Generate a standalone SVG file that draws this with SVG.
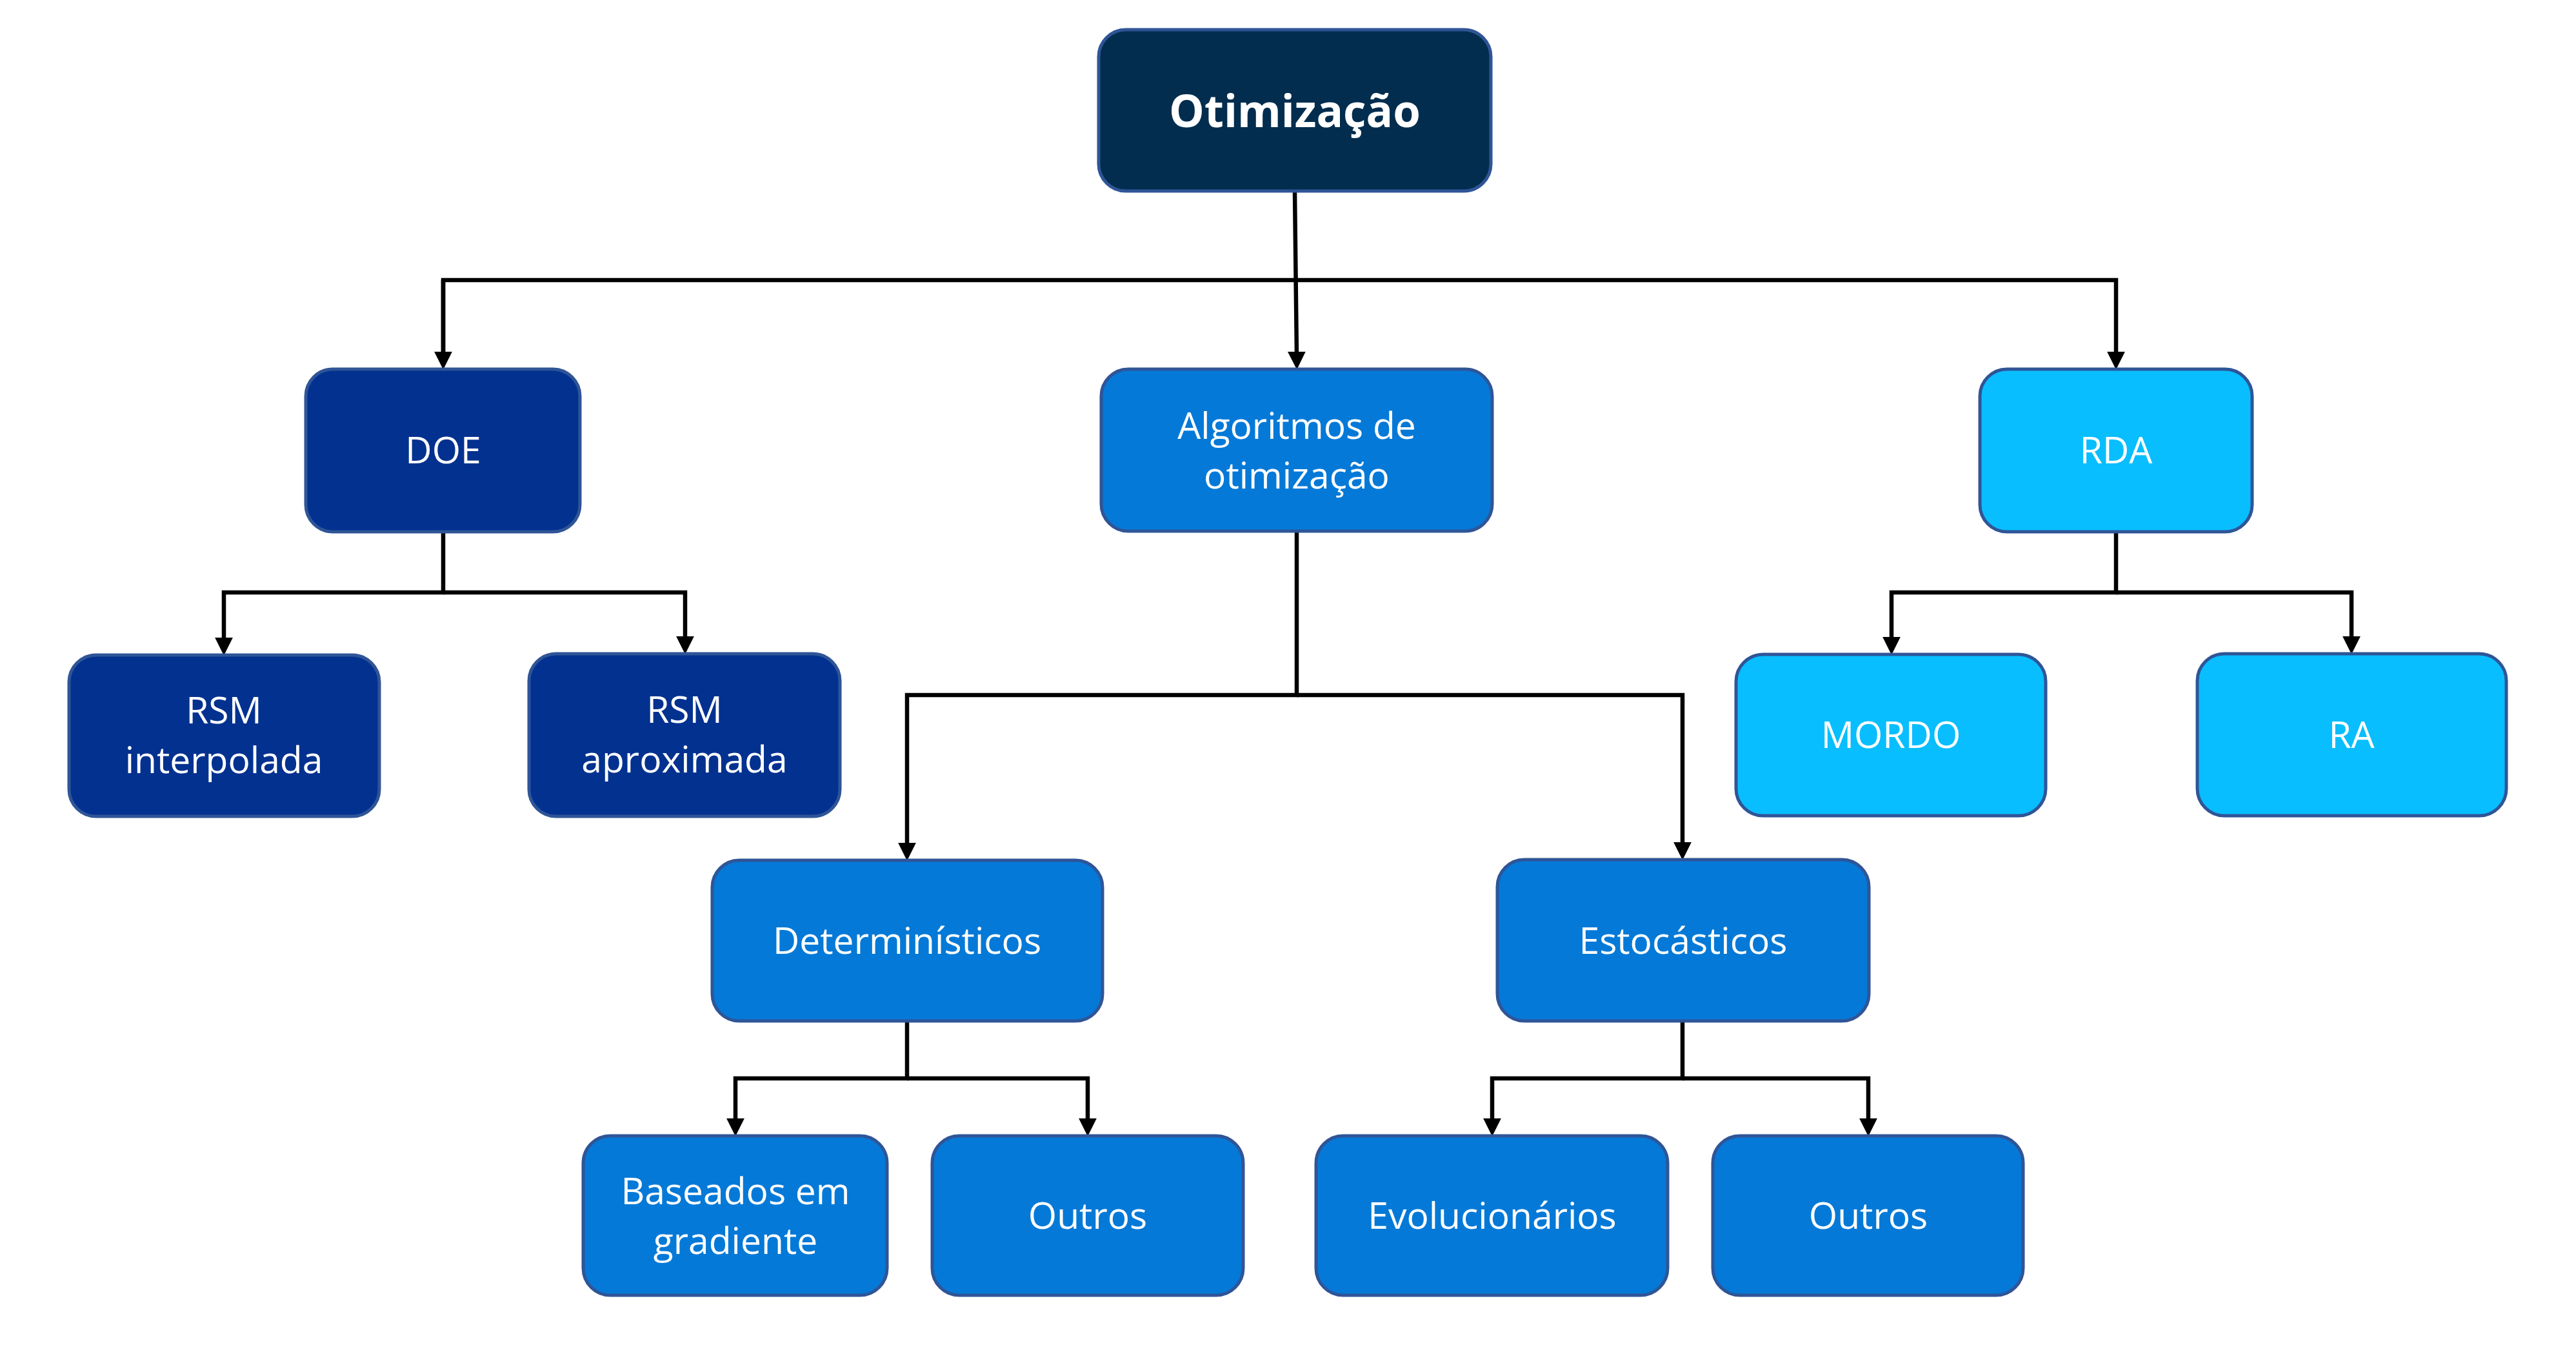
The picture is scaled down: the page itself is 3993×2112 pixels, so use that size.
<svg xmlns="http://www.w3.org/2000/svg" width="3993" height="2112" viewBox="0 0 3993 2112">
  <defs>
    <marker id="arrow" markerUnits="userSpaceOnUse" markerWidth="28" markerHeight="28" viewBox="0 0 27 27" refX="7" refY="13.5" orient="auto">
      <path d="M0,0 L27,13.5 L0,27 Z" fill="#000"/>
    </marker>
    <style>
      .box { stroke: #2F5597; stroke-width: 5; }
      .c0 { fill: #022D4E; }
      .c1 { fill: #03318F; }
      .c2 { fill: #0579D7; }
      .c3 { fill: #08BEFE; }
      .t { fill: #FFFFFF; font-family: "Open Sans", "Noto Sans", sans-serif; font-size: 57px; text-anchor: middle; }
      .tb { fill: #FFFFFF; font-family: "Open Sans", "Noto Sans", sans-serif; font-size: 69px; font-weight: bold; text-anchor: middle; }
      .conn { fill: none; stroke: #000; stroke-width: 6.5; stroke-linejoin: miter; }
    </style>
  </defs>
  <rect width="3993" height="2112" fill="#FFFFFF"/>

  <g id="connectors">
    <path class="conn" d="M2007,296 L2010,552" marker-end="url(#arrow)"/>
    <path class="conn" d="M687,552 L687,434 L3280,434 L3280,552" marker-end="url(#arrow)"/>
    <path class="conn" d="M687,434 L687,552" marker-end="url(#arrow)"/>
    <path class="conn" d="M687,824 L687,918 L347,918 L347,995" marker-end="url(#arrow)"/>
    <path class="conn" d="M687,918 L1062,918 L1062,993" marker-end="url(#arrow)"/>
    <path class="conn" d="M3280,824 L3280,918 L2932,918 L2932,994" marker-end="url(#arrow)"/>
    <path class="conn" d="M3280,918 L3645,918 L3645,993" marker-end="url(#arrow)"/>
    <path class="conn" d="M2010,823 L2010,1077 L1406,1077 L1406,1313" marker-end="url(#arrow)"/>
    <path class="conn" d="M2010,1077 L2608,1077 L2608,1312" marker-end="url(#arrow)"/>
    <path class="conn" d="M1406,1582 L1406,1671 L1140,1671 L1140,1740" marker-end="url(#arrow)"/>
    <path class="conn" d="M1406,1671 L1686,1671 L1686,1740" marker-end="url(#arrow)"/>
    <path class="conn" d="M2608,1582 L2608,1671 L2313,1671 L2313,1740" marker-end="url(#arrow)"/>
    <path class="conn" d="M2608,1671 L2896,1671 L2896,1740" marker-end="url(#arrow)"/>
  </g>

  <g id="otimizacao">
    <rect class="box c0" x="1703" y="46" width="608" height="250" rx="42"/>
    <text class="tb" x="2007" y="197">Otimização</text>
  </g>
  <g id="doe">
    <rect class="box c1" x="474" y="572" width="425" height="252" rx="42"/>
    <text class="t" x="687" y="718">DOE</text>
  </g>
  <g id="algoritmos">
    <rect class="box c2" x="1707" y="572" width="606" height="251" rx="42"/>
    <text class="t" x="2010" y="680">Algoritmos de</text>
    <text class="t" x="2010" y="757">otimização</text>
  </g>
  <g id="rda">
    <rect class="box c3" x="3069" y="572" width="422" height="252" rx="42"/>
    <text class="t" x="3280" y="718">RDA</text>
  </g>
  <g id="rsm-interpolada">
    <rect class="box c1" x="107" y="1015" width="481" height="250" rx="42"/>
    <text class="t" x="347" y="1121">RSM</text>
    <text class="t" x="347" y="1198">interpolada</text>
  </g>
  <g id="rsm-aproximada">
    <rect class="box c1" x="820" y="1013" width="482" height="252" rx="42"/>
    <text class="t" x="1061" y="1120">RSM</text>
    <text class="t" x="1061" y="1197">aproximada</text>
  </g>
  <g id="mordo">
    <rect class="box c3" x="2691" y="1014" width="480" height="250" rx="42"/>
    <text class="t" x="2931" y="1159">MORDO</text>
  </g>
  <g id="ra">
    <rect class="box c3" x="3406" y="1013" width="479" height="251" rx="42"/>
    <text class="t" x="3645" y="1159">RA</text>
  </g>
  <g id="deterministicos">
    <rect class="box c2" x="1104" y="1333" width="605" height="249" rx="42"/>
    <text class="t" x="1406" y="1478">Determinísticos</text>
  </g>
  <g id="estocasticos">
    <rect class="box c2" x="2321" y="1332" width="576" height="250" rx="42"/>
    <text class="t" x="2609" y="1478">Estocásticos</text>
  </g>
  <g id="baseados">
    <rect class="box c2" x="904" y="1760" width="471" height="247" rx="42"/>
    <text class="t" x="1140" y="1866">Baseados em</text>
    <text class="t" x="1140" y="1943">gradiente</text>
  </g>
  <g id="outros-det">
    <rect class="box c2" x="1445" y="1760" width="482" height="247" rx="42"/>
    <text class="t" x="1686" y="1904">Outros</text>
  </g>
  <g id="evolucionarios">
    <rect class="box c2" x="2040" y="1760" width="545" height="247" rx="42"/>
    <text class="t" x="2313" y="1904">Evolucionários</text>
  </g>
  <g id="outros-est">
    <rect class="box c2" x="2655" y="1760" width="481" height="247" rx="42"/>
    <text class="t" x="2896" y="1904">Outros</text>
  </g>
</svg>
